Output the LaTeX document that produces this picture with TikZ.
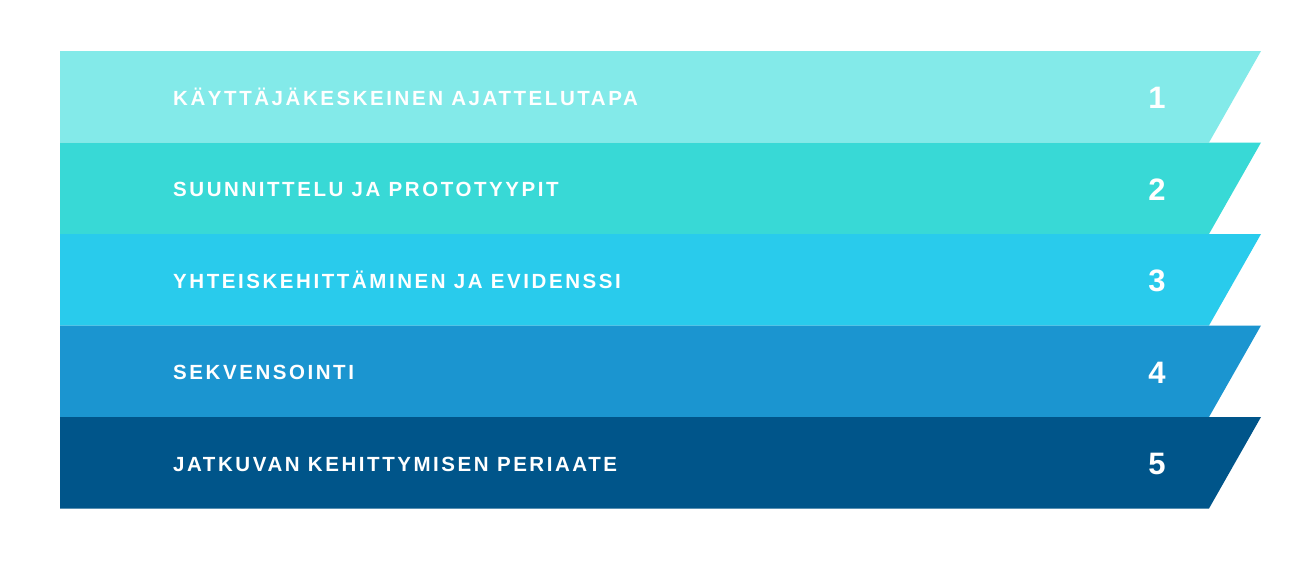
\documentclass[tikz,border=0pt]{standalone}
\usepackage{fontspec}
\setmainfont{Liberation Sans}
\newfontfamily\labelfont[LetterSpace=12.5]{Liberation Sans Bold}
\newfontfamily\numfont{Liberation Sans Bold}
\definecolor{bandA}{RGB}{131,234,233}
\definecolor{bandB}{RGB}{56,217,214}
\definecolor{bandC}{RGB}{41,203,236}
\definecolor{bandD}{RGB}{27,149,208}
\definecolor{bandE}{RGB}{0,85,138}
\begin{document}
\begin{tikzpicture}[x=1pt,y=-1pt,
  bandtext/.style={anchor=base west,text=white,font=\labelfont\fontsize{20.5}{21}\selectfont,inner sep=0pt},
  bandnum/.style={anchor=base,text=white,font=\numfont\fontsize{31}{32}\selectfont,inner sep=0pt}]
\useasboundingbox[fill=white] (0,0) rectangle (1314,568);
\foreach \i/\c in {0/bandA,1/bandB,2/bandC,3/bandD,4/bandE}{
  \pgfmathsetmacro{\yt}{51+91.5*\i}
  \pgfmathsetmacro{\yb}{51+91.5*(\i+1)}
  \fill[\c] (60,\yt) -- (1261,\yt) -- (1209,\yb) -- (60,\yb) -- cycle;
}
\node[bandtext] (t1) at (173,105) {KÄYTTÄJÄKESKEINEN AJATTELUTAPA};
\node[bandtext] (t2) at (173,196.5) {SUUNNITTELU JA PROTOTYYPIT};
\node[bandtext] (t3) at (173,288) {YHTEISKEHITTÄMINEN JA EVIDENSSI};
\node[bandtext] (t4) at (173,379.5) {SEKVENSOINTI};
\node[bandtext] (t5) at (173,471) {JATKUVAN KEHITTYMISEN PERIAATE};
\node[bandnum] (n1) at (1157,108.5) {1};
\node[bandnum] (n2) at (1157,200) {2};
\node[bandnum] (n3) at (1157,291.5) {3};
\node[bandnum] (n4) at (1157,383) {4};
\node[bandnum] (n5) at (1157,474.5) {5};
\end{tikzpicture}
\end{document}
